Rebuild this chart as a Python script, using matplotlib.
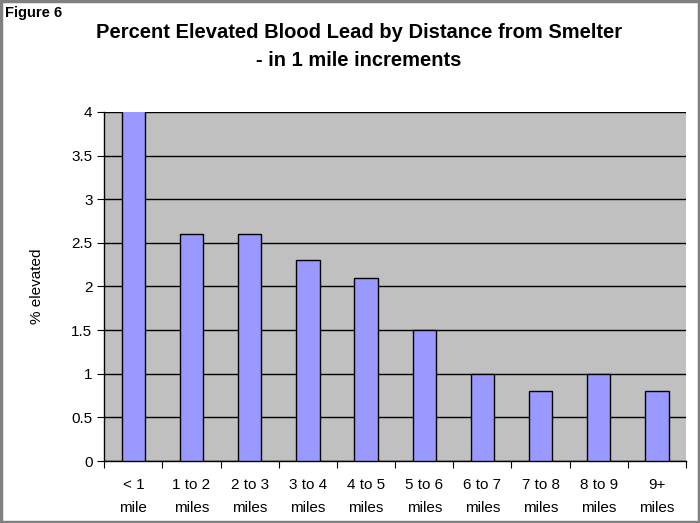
import matplotlib
matplotlib.use("Agg")
import matplotlib.pyplot as plt
from matplotlib.patches import Rectangle

categories = ["< 1\nmile", "1 to 2\nmiles", "2 to 3\nmiles", "3 to 4\nmiles", "4 to 5\nmiles",
              "5 to 6\nmiles", "6 to 7\nmiles", "7 to 8\nmiles", "8 to 9\nmiles", "9+\nmiles"]
values = [4.1, 2.6, 2.6, 2.3, 2.1, 1.5, 1.0, 0.8, 1.0, 0.8]
yticks = [0, 0.5, 1, 1.5, 2, 2.5, 3, 3.5, 4]
ytick_labels = ["0", "0.5", "1", "1.5", "2", "2.5", "3", "3.5", "4"]

plt.rcParams['font.family'] = ['Liberation Sans', 'DejaVu Sans']

fig = plt.figure(figsize=(7, 5.23), dpi=100)
ax = fig.add_axes([0.149, 0.1185, 0.831, 0.6675])
ax.set_facecolor("#C0C0C0")

x = list(range(len(values)))
ax.bar(x, values, width=0.4, color="#9999FF", edgecolor="black", linewidth=1.0, zorder=3)

ax.set_xlim(-0.5, len(values) - 0.5)
ax.set_ylim(0, 4)
ax.set_yticks(yticks)
ax.set_yticklabels(ytick_labels, fontsize=11)
ax.yaxis.grid(True, color="black", linewidth=1.0, zorder=1)
ax.set_axisbelow(True)

ax.set_xticks(x)
ax.set_xticklabels(categories, fontsize=11, linespacing=1.85)
ax.set_xticks([i - 0.5 for i in range(len(values) + 1)], minor=True)
ax.tick_params(axis='x', which='major', length=0, pad=12)
ax.tick_params(axis='x', which='minor', length=5, direction='out', width=0.8)
ax.tick_params(axis='y', length=5, direction='out', width=0.8)

for s in ["top", "right"]:
    ax.spines[s].set_visible(False)
ax.spines["left"].set_linewidth(1.0)
ax.spines["bottom"].set_linewidth(1.0)

ax.set_ylabel("% elevated", fontsize=11, labelpad=20)

fig.text(0.513, 0.937, "Percent Elevated Blood Lead by Distance from Smelter",
         ha="center", va="center", fontsize=14.5, fontweight="bold")
fig.text(0.513, 0.885, "- in 1 mile increments",
         ha="center", va="center", fontsize=14.5, fontweight="bold")
fig.text(0.007, 0.975, "Figure 6", ha="left", va="center", fontsize=10.5, fontweight="bold")

fig.patches.append(Rectangle((0.002, 0.002), 0.996, 0.996, transform=fig.transFigure,
                             fill=False, edgecolor="#808080", linewidth=2.5))

fig.savefig("out.png", dpi=100)
